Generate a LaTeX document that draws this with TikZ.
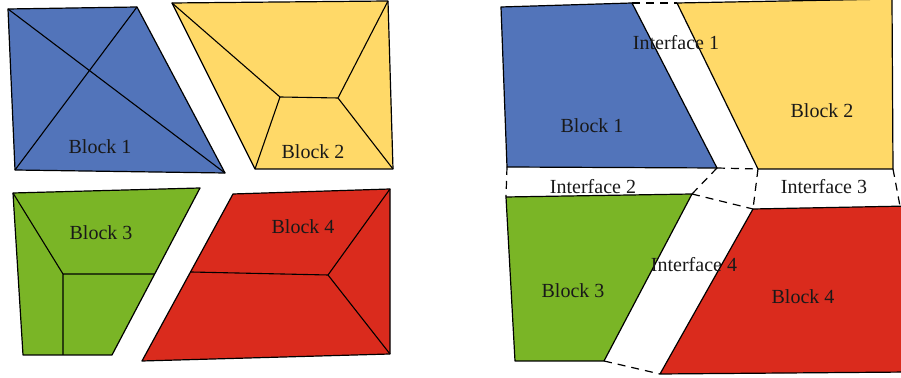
\documentclass[tikz,border=0pt]{standalone}
\usepackage{fontspec}
\setmainfont{Liberation Serif}
\usetikzlibrary{calc}
\definecolor{blockblue}{RGB}{82,116,186}
\definecolor{blockyellow}{RGB}{255,217,104}
\definecolor{blockgreen}{RGB}{122,181,38}
\definecolor{blockred}{RGB}{218,43,29}
\tikzset{
  blockface/.style={draw=black, line width=0.6pt, line join=round},
  meshline/.style={draw=black, line width=0.55pt},
  iface/.style={draw=black, line width=0.6pt, dash pattern=on 4pt off 3pt},
  tag/.style={font=\fontsize{10}{12}\selectfont, text=black!90, inner sep=0pt}
}
\begin{document}
\begin{tikzpicture}[x=0.5pt, y=-0.5pt]
\useasboundingbox (0,0) rectangle (901,378);
\clip (0,0) rectangle (901,378);

% ---------- meshed blocks (left) ----------
% Block 1
\coordinate (a1) at (8,9);   \coordinate (b1) at (137,7);
\coordinate (c1) at (225,173); \coordinate (d1) at (15,170);
\fill[blockblue] (a1) -- (b1) -- (c1) -- (d1) -- cycle;
\draw[meshline] (a1) -- (c1) (b1) -- (d1);
\draw[blockface] (a1) -- (b1) -- (c1) -- (d1) -- cycle;

% Block 2
\coordinate (a2) at (172,3);  \coordinate (b2) at (388,1);
\coordinate (c2) at (393,169); \coordinate (d2) at (255,169);
\coordinate (p2) at (280,97); \coordinate (q2) at (338,98);
\fill[blockyellow] (a2) -- (b2) -- (c2) -- (d2) -- cycle;
\draw[meshline] (a2) -- (p2) -- (q2) -- (b2) (p2) -- (d2) (q2) -- (c2);
\draw[blockface] (a2) -- (b2) -- (c2) -- (d2) -- cycle;

% Block 3
\coordinate (a3) at (13,193); \coordinate (b3) at (200,188);
\coordinate (c3) at (112,355); \coordinate (d3) at (23,355);
\coordinate (p3) at (63,274);
\coordinate (s3) at ($(b3)!0.515!(c3)$);
\coordinate (t3) at (63,355);
\fill[blockgreen] (a3) -- (b3) -- (c3) -- (d3) -- cycle;
\draw[meshline] (a3) -- (p3) -- (s3) (p3) -- (t3);
\draw[blockface] (a3) -- (b3) -- (c3) -- (d3) -- cycle;

% Block 4
\coordinate (a4) at (233,194); \coordinate (b4) at (390,189);
\coordinate (c4) at (390,354); \coordinate (d4) at (142,361);
\coordinate (s4) at ($(a4)!0.467!(d4)$);
\coordinate (p4) at (328,275);
\fill[blockred] (a4) -- (b4) -- (c4) -- (d4) -- cycle;
\draw[meshline] (s4) -- (p4) -- (b4) (p4) -- (c4);
\draw[blockface] (a4) -- (b4) -- (c4) -- (d4) -- cycle;

\node[tag] (l1) at (100,147) {Block 1};
\node[tag] (l2) at (313,152) {Block 2};
\node[tag] (l3) at (101,233) {Block 3};
\node[tag] (l4) at (303,227) {Block 4};

% ---------- blocks with interfaces (right) ----------
\coordinate (A1) at (501,7);   \coordinate (B1) at (632,3);
\coordinate (C1) at (717,168); \coordinate (D1) at (507,167);
\coordinate (A2) at (677,3);   \coordinate (B2) at (892,-1);
\coordinate (C2) at (893,169); \coordinate (D2) at (758,169);
\coordinate (A3) at (506,197); \coordinate (B3) at (692,194);
\coordinate (C3) at (604,361); \coordinate (D3) at (515,361);
\coordinate (A4) at (753,209); \coordinate (B4) at (910,206);
\coordinate (C4) at (910,372); \coordinate (D4) at (660,374);
\coordinate (E4) at (900,206);

\filldraw[blockface, fill=blockblue]   (A1) -- (B1) -- (C1) -- (D1) -- cycle;
\filldraw[blockface, fill=blockyellow] (A2) -- (B2) -- (C2) -- (D2) -- cycle;
\filldraw[blockface, fill=blockgreen]  (A3) -- (B3) -- (C3) -- (D3) -- cycle;
\filldraw[blockface, fill=blockred]    (A4) -- (B4) -- (C4) -- (D4) -- cycle;

% interface boundaries
\draw[iface] (B1) -- (A2);
\draw[iface] (C1) -- (D2);
\draw[iface] (D1) -- (A3);
\draw[iface] (C1) -- (B3);
\draw[iface] (D2) -- (A4);
\draw[iface] (B3) -- (A4);
\draw[iface] (C3) -- (D4);
\draw[iface] (C2) -- (E4);

\node[tag] (i1) at (676,43)  {Interface 1};
\node[tag] (i2) at (593,187) {Interface 2};
\node[tag] (i3) at (824,187) {Interface 3};
\node[tag] (i4) at (694,265) {Interface 4};
\node[tag] (r1) at (592,126) {Block 1};
\node[tag] (r2) at (822,111) {Block 2};
\node[tag] (r3) at (573,291) {Block 3};
\node[tag] (r4) at (803,297) {Block 4};
\end{tikzpicture}
\end{document}
